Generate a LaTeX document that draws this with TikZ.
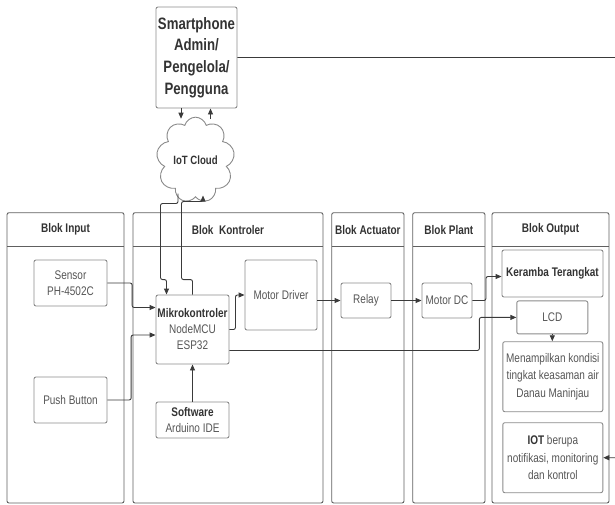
\documentclass[tikz,border=0pt]{standalone}
\usepackage{fontspec}
\setmainfont{Liberation Sans}[FakeStretch=0.8]
\usetikzlibrary{positioning, arrows.meta, calc, shapes.symbols}

\definecolor{boxline}{HTML}{8A8A8A}
\definecolor{panelline}{HTML}{606060}
\definecolor{wire}{HTML}{3A3A3A}
\definecolor{txt}{HTML}{555555}
\definecolor{txtb}{HTML}{333333}

\tikzset{
  blok/.style={draw=boxline, line width=0.9pt, rounded corners=2pt, align=center, inner sep=1pt, text=txt},
  head/.style={text=txtb, font=\fontsize{12.5}{16}\selectfont\bfseries},
  panel/.style={draw=panelline, line width=0.9pt, rounded corners=2pt},
  wire/.style={draw=wire, line width=0.9pt, rounded corners=2pt},
  arr/.style={wire, -{Triangle[length=6pt,width=5pt]}},
}

\begin{document}
\begin{tikzpicture}[x=1pt, y=-1pt, every node/.style={font=\fontsize{12.5}{16}\selectfont}]
\useasboundingbox (0,0) rectangle (615,504);

% Panels
\foreach \i/\xa/\xb/\lab in {1/7/124/Blok Input, 2/133/323/Blok\ \ Kontroler, 3/331.7/404/Blok Actuator, 4/412.7/485/Blok Plant, 5/492/609/Blok Output} {
  \draw[panel] (\xa,212.7) rectangle (\xb,503);
  \draw[panel] (\xa,246.7) -- (\xb,246.7);
  \node[head] (hd\i) at ({(\xa+\xb)/2},229.7) {\lab};
}

% Smartphone and cloud
\node[blok, minimum width=81pt, minimum height=101pt, text=txtb, font=\fontsize{16.5}{21.7}\selectfont\bfseries] (phone) at (196.5,57.5) {Smartphone\\Admin/\\Pengelola/\\Pengguna};
\node[cloud, cloud puffs=9, aspect=0.85, draw=boxline, line width=0.9pt, minimum width=68pt, minimum height=72pt, inner sep=0pt, text=txtb, font=\fontsize{12}{15}\selectfont\bfseries] (cloud) at (195.5,160) {IoT Cloud};
\coordinate (edge) at (618,57.5);

% Blocks
\node[blok, minimum width=73pt, minimum height=46pt] (sensor) at (70.5,283) {Sensor\\PH-4502C};
\node[blok, minimum width=73pt, minimum height=46pt] (push) at (70.5,400) {Push Button};
\node[blok, minimum width=73pt, minimum height=69pt] (mikro) at (192.5,329.5) {{\color{txtb}\bfseries Mikrokontroler}\\NodeMCU\\ESP32};
\node[blok, minimum width=73pt, minimum height=36pt] (soft) at (192.5,420) {{\color{txtb}\bfseries Software}\\Arduino IDE};
\node[blok, minimum width=72pt, minimum height=70pt] (md) at (281,295) {Motor Driver};
\node[blok, minimum width=50pt, minimum height=35pt] (relay) at (366,300.5) {Relay};
\node[blok, minimum width=50pt, minimum height=35pt] (mdc) at (447,300.5) {Motor DC};
\node[blok, minimum width=101pt, minimum height=47pt, text=txtb, font=\fontsize{12.5}{16}\selectfont\bfseries] (keramba) at (552.5,273.5) {Keramba Terangkat};
\node[blok, minimum width=71pt, minimum height=33pt] (lcd) at (552.3,317.4) {LCD};
\node[blok, minimum width=100pt, minimum height=70pt, font=\fontsize{12.5}{17.3}\selectfont] (info) at (552.8,376.7) {Menampilkan kondisi\\tingkat keasaman air\\Danau Maninjau};
\node[blok, minimum width=100pt, minimum height=70pt, font=\fontsize{12.5}{17.3}\selectfont] (iot) at (552.8,457.7) {{\color{txtb}\bfseries IOT} berupa\\notifikasi, monitoring\\dan kontrol};

% Connections
\draw[arr] ([xshift=-15.5pt]phone.south) -- ([xshift=-15.5pt,yshift=-2pt]phone.south |- cloud.north);
\draw[arr] ([xshift=14pt,yshift=-2pt]phone.south |- cloud.north) -- ([xshift=14pt]phone.south);
\draw[arr] ([xshift=-17.5pt,yshift=4pt]cloud.south) -- ++(0,10) -| ([xshift=-32pt,yshift=15pt]mikro.north) -- ([xshift=-26pt,yshift=15pt]mikro.north) -- ([xshift=-26pt]mikro.north);
\draw[arr] (mikro.north) -- ++(0,-15) -- ++(-11,0) |- ([xshift=7.5pt,yshift=-4pt]cloud.south) -- ([xshift=7.5pt,yshift=2pt]cloud.south);
\draw[arr] (sensor.east) -- ++(24.7,0) |- ([yshift=22pt]mikro.west);
\draw[arr] (push.east) -- ++(23.7,0) |- ([yshift=-5.5pt]mikro.west);
\draw[arr] (soft.north) -- (mikro.south);
\draw[arr] (mikro.east) -- ++(6,0) |- (md.west);
\draw[arr] (md.east |- relay.west) -- (relay.west);
\draw[arr] (relay.east) -- (mdc.west);
\draw[arr] (mdc.east) -- ++(13.5,0) |- ([yshift=-3pt]keramba.west);
\draw[arr] ([yshift=-21pt]mikro.east) -| ([xshift=-37pt]lcd.west) -- (lcd.west);
\draw[arr] (lcd.south) -- (lcd.south |- info.north);
\draw[arr] (phone.east) -- (edge) |- (iot.east);

\end{tikzpicture}
\end{document}
